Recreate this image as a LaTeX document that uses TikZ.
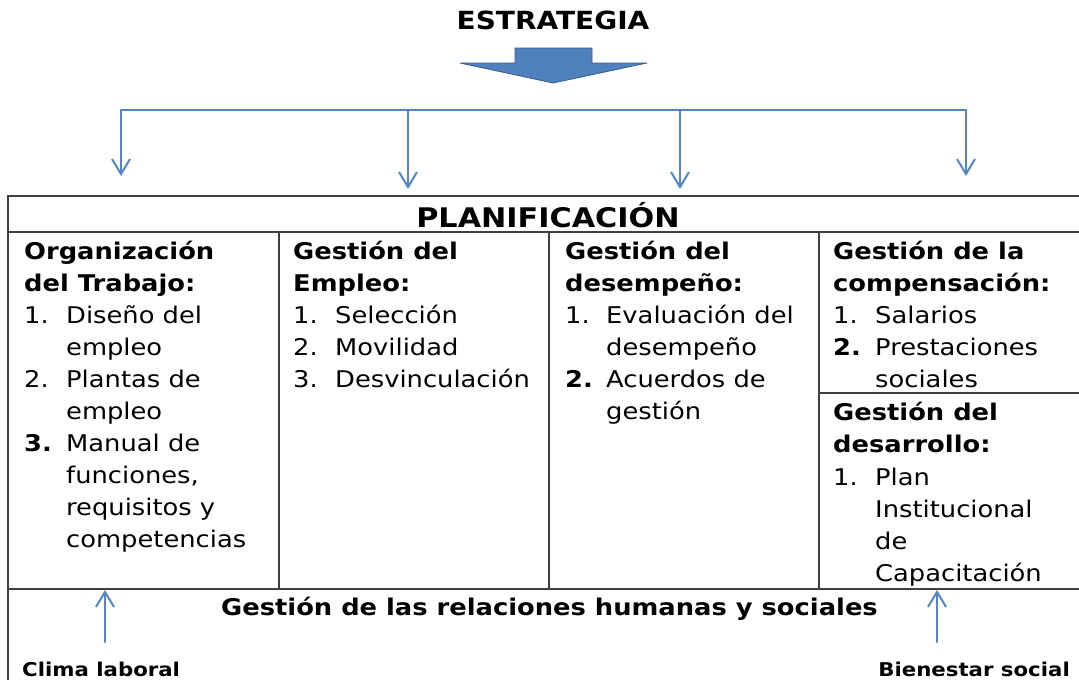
\documentclass[tikz,border=0pt]{standalone}
\usepackage{fontspec}
\setmainfont{DejaVu Sans}[FakeStretch=1.12]
\usetikzlibrary{arrows.meta}
\definecolor{connc}{RGB}{84,134,196}
\definecolor{arrowfill}{RGB}{79,129,189}
\definecolor{arrowline}{RGB}{56,93,138}
\definecolor{gridc}{RGB}{64,64,64}
\newcommand\numbox[1]{\makebox[42pt][l]{#1}}
\tikzset{
  body/.style={inner sep=0pt, anchor=base west, font=\fontsize{23}{32}\selectfont},
  hd/.style={inner sep=0pt, anchor=base west, font=\fontsize{23}{32}\selectfont\bfseries},
  gridline/.style={draw=gridc, line width=1.6pt},
  conn/.style={draw=connc, line width=2pt, line cap=round, line join=round},
  connarrow/.style={conn, -{Straight Barb[length=15pt,width=18pt,line width=2pt]}},
  lbl/.style={inner sep=0pt, font=\fontsize{19}{22}\selectfont\bfseries},
}
\begin{document}
\begin{tikzpicture}[x=1pt,y=-1pt]
\useasboundingbox (0,0) rectangle (1079,680);
\fill[white] (0,0) rectangle (1079,680);

% title and big arrow
\node[inner sep=0pt, anchor=base, font=\fontsize{25}{30}\selectfont\bfseries] (estr) at (553,29) {ESTRATEGIA};
\draw[fill=arrowfill, draw=arrowline, line width=0.8pt, line join=round]
  (515,48) -- (592,48) -- (592,63) -- (647,63) -- (553,83) -- (460,63) -- (515,63) -- cycle;

% distribution connectors
\coordinate (b1) at (121,110);
\coordinate (b2) at (408,110);
\coordinate (b3) at (680,110);
\coordinate (b4) at (966,110);
\coordinate (e1) at (121,176);
\coordinate (e2) at (408,189);
\coordinate (e3) at (680,189);
\coordinate (e4) at (966,176);
\draw[conn] (b1) -- (b4);
\draw[connarrow] (b1) -- (e1);
\draw[connarrow] (b2) -- (e2);
\draw[connarrow] (b3) -- (e3);
\draw[connarrow] (b4) -- (e4);

% table grid
\draw[gridline] (8,680) -- (8,196) -- (1080,196);
\draw[gridline] (8,232) -- (1080,232);
\draw[gridline] (8,589) -- (1080,589);
\draw[gridline] (279,232) -- (279,589);
\draw[gridline] (549,232) -- (549,589);
\draw[gridline] (819,232) -- (819,589);
\draw[gridline] (819,393) -- (1080,393);

\node[inner sep=0pt, anchor=base, font=\fontsize{27}{30}\selectfont\bfseries] (plan) at (548,227) {PLANIFICACIÓN};

% column 1
\node[hd] (c1a) at (24,259) {Organización};
\node[hd] (c1b) at (24,291) {del Trabajo:};
\node[body] (c1c) at (24,323) {\numbox{1.}Diseño del};
\node[body] (c1d) at (66,355) {empleo};
\node[body] (c1e) at (24,387) {\numbox{2.}Plantas de};
\node[body] (c1f) at (66,419) {empleo};
\node[body] (c1g) at (24,451) {\numbox{\bfseries 3.}Manual de};
\node[body] (c1h) at (66,483) {funciones,};
\node[body] (c1i) at (66,515) {requisitos y};
\node[body] (c1j) at (66,547) {competencias};

% column 2
\node[hd] (c2a) at (293,259) {Gestión del};
\node[hd] (c2b) at (293,291) {Empleo:};
\node[body] (c2c) at (293,323) {\numbox{1.}Selección};
\node[body] (c2d) at (293,355) {\numbox{2.}Movilidad};
\node[body] (c2e) at (293,387) {\numbox{3.}Desvinculación};

% column 3
\node[hd] (c3a) at (565,259) {Gestión del};
\node[hd] (c3b) at (565,291) {desempeño:};
\node[body] (c3c) at (565,323) {\makebox[41pt][l]{1.}Evaluación del};
\node[body] (c3d) at (606,355) {desempeño};
\node[body] (c3e) at (565,387) {\makebox[41pt][l]{\bfseries 2.}Acuerdos de};
\node[body] (c3f) at (606,419) {gestión};

% column 4
\node[hd] (c4a) at (833,259) {Gestión de la};
\node[hd] (c4b) at (833,291) {compensación:};
\node[body] (c4c) at (833,323) {\numbox{1.}Salarios};
\node[body] (c4d) at (833,355) {\numbox{\bfseries 2.}Prestaciones};
\node[body] (c4e) at (875,387) {sociales};
\node[hd] (c4f) at (833,420) {Gestión del};
\node[hd] (c4g) at (833,452) {desarrollo:};
\node[body] (c4h) at (833,485) {\numbox{1.}Plan};
\node[body] (c4i) at (875,517) {Institucional};
\node[body] (c4j) at (875,549) {de};
\node[body] (c4k) at (875,581) {Capacitación};

% bottom row
\node[inner sep=0pt, anchor=base, font=\fontsize{23}{30}\selectfont\bfseries] (rel) at (549.5,615) {Gestión de las relaciones humanas y sociales};

\node[lbl, anchor=base west] (clima) at (22,676) {Clima laboral};
\node[lbl, anchor=base east] (bien) at (1070,676) {Bienestar social};
\coordinate (u1s) at (105,642);
\coordinate (u1e) at (105,590);
\coordinate (u2s) at (937,642);
\coordinate (u2e) at (937,590);
\draw[connarrow] (u1s) -- (u1e);
\draw[connarrow] (u2s) -- (u2e);
\end{tikzpicture}
\end{document}
